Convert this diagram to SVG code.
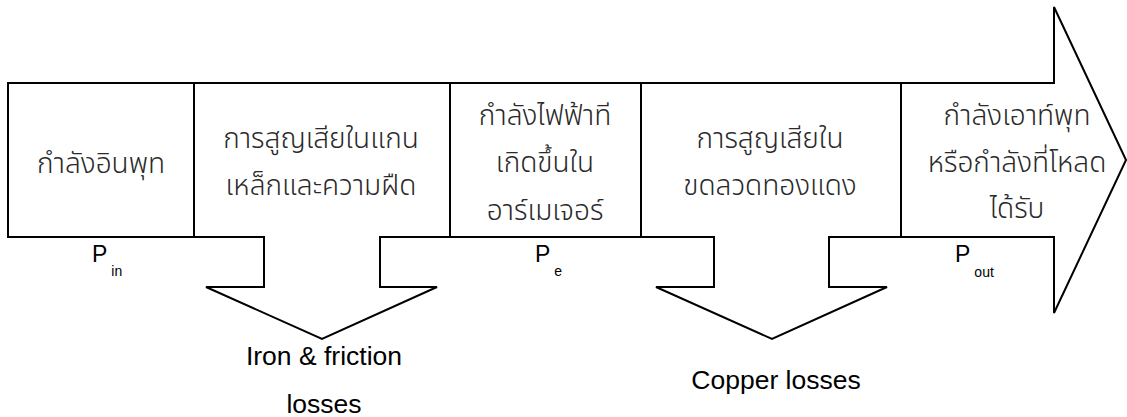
<svg xmlns="http://www.w3.org/2000/svg" width="1127" height="417" viewBox="0 0 1127 417">
<style>
.o{fill:#fff;stroke:#000;stroke-width:2;stroke-linejoin:miter}
.d{stroke:#000;stroke-width:2;fill:none}
.th{font-family:"Noto Sans Thai","Noto Sans","DejaVu Sans",sans-serif;font-size:28px;font-weight:300;fill:#2a2a2a;text-anchor:middle}
.en{font-family:"Liberation Sans",Arial,sans-serif;font-size:26.5px;fill:#000;text-anchor:middle}
.p{font-family:"Liberation Sans",Arial,sans-serif;font-size:23px;fill:#000}
.s{font-size:14px}
</style>
<rect width="1127" height="417" fill="#fff"/>
<g id="flow">
<path class="o" d="M8,83 H1054 V7 L1126,160 L1054,313 V237 H829 V287 H887 L772,339 L656,287 H714 V237 H380 V287 H437 L322,339 L206,287 H264 V237 H8 Z"/>
</g>
<g id="connectors">
<line class="d" x1="194" y1="83" x2="194" y2="237"/>
<line class="d" x1="450" y1="83" x2="450" y2="237"/>
<line class="d" x1="641" y1="83" x2="641" y2="237"/>
<line class="d" x1="901" y1="83" x2="901" y2="237"/>
</g>
<g id="input">
<text class="th" x="101" y="173">กำลังอินพุท</text>
<text class="p" x="92" y="262">P<tspan class="s" dx="4" dy="14">in</tspan></text>
</g>
<g id="iron">
<text class="th" x="321" y="148">การสูญเสียในแกน</text>
<text class="th" x="321" y="195">เหล็กและความฝืด</text>
<text class="en" x="324" y="365">Iron &amp; friction</text>
<text class="en" x="324" y="413">losses</text>
</g>
<g id="electric">
<text class="th" x="545" y="125">กำลังไฟฟ้าที</text>
<text class="th" x="545" y="172">เกิดขึ้นใน</text>
<text class="th" x="545" y="220">อาร์เมเจอร์</text>
<text class="p" x="535" y="262">P<tspan class="s" dx="4" dy="14">e</tspan></text>
</g>
<g id="copper">
<text class="th" x="770" y="148">การสูญเสียใน</text>
<text class="th" x="770" y="195">ขดลวดทองแดง</text>
<text class="en" x="776" y="389">Copper losses</text>
</g>
<g id="output">
<text class="th" x="1017" y="125">กำลังเอาท์พุท</text>
<text class="th" x="1017" y="172">หรือกำลังที่โหลด</text>
<text class="th" x="1017" y="218">ได้รับ</text>
<text class="p" x="955" y="262">P<tspan class="s" dx="4" dy="15">out</tspan></text>
</g>
</svg>
